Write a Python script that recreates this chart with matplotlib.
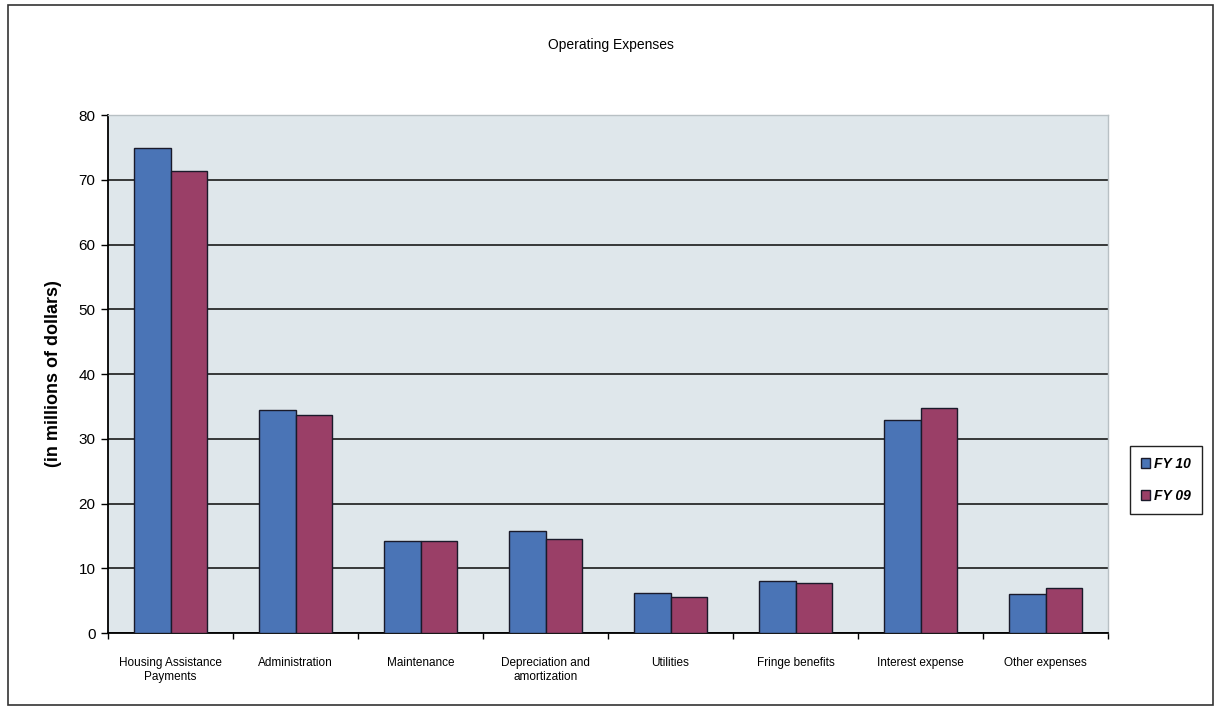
import numpy as np
import matplotlib
matplotlib.use('Agg')
import matplotlib.pyplot as plt
from matplotlib.patches import Rectangle

plt.rcParams.update({
    'font.family': ['Liberation Sans', 'DejaVu Sans'],
    'font.size': 9,
})

categories = ['Housing Assistance\nPayments', 'Administration', 'Maintenance',
              'Depreciation and\namortization', 'Utilities', 'Fringe benefits',
              'Interest expense', 'Other expenses']
fy10 = [74.9, 34.4, 14.2, 15.8, 6.2, 8.0, 32.9, 6.0]
fy09 = [71.4, 33.7, 14.2, 14.5, 5.6, 7.7, 34.7, 6.9]
series_names = ['FY 10', 'FY 09']
colors = ['#4a74b6', '#9a3f67']

fig = plt.figure(figsize=(12.21, 7.11), dpi=100)
ax = fig.add_axes([0.0885, 0.1097, 0.819, 0.7285])
ax.set_facecolor('#dfe7eb')

x = np.arange(len(categories))
w = 0.29
b1 = ax.bar(x - w / 2, fy10, w, color=colors[0], edgecolor='#1a1a2a', linewidth=1.0,
            label=series_names[0], zorder=3)
b2 = ax.bar(x + w / 2, fy09, w, color=colors[1], edgecolor='#1a1a2a', linewidth=1.0,
            label=series_names[1], zorder=3)

ax.set_xlim(-0.5, len(categories) - 0.5)
ax.set_ylim(0, 80)
ax.set_yticks(np.arange(0, 81, 10))
ax.yaxis.grid(True, color='#1a1a1a', linewidth=1.2, zorder=1)
ax.set_axisbelow(True)

ax.set_xticks(x)
ax.set_xticklabels(categories, fontsize=8.5, linespacing=1.3)
ax.set_xticks(np.arange(-0.5, len(categories), 1), minor=True)
ax.tick_params(axis='x', which='major', length=0, pad=17)
ax.tick_params(axis='x', which='minor', length=4, width=1, direction='out')
ax.tick_params(axis='y', length=5, width=1, direction='out', labelsize=11, pad=4)

for side in ['top', 'right']:
    ax.spines[side].set_color('#b8c0c4')
    ax.spines[side].set_linewidth(1)
ax.spines['left'].set_linewidth(1.3)
ax.spines['bottom'].set_linewidth(1.3)

ax.set_ylabel('(in millions of dollars)', fontsize=13, fontweight='bold', labelpad=12)
fig.text(0.5, 0.937, 'Operating Expenses', ha='center', va='center', fontsize=10)

leg = fig.legend(handles=[b1, b2], loc='center left', bbox_to_anchor=(0.920, 0.325),
                 prop={'weight': 'bold', 'style': 'italic', 'size': 10},
                 handlelength=0.6, handleheight=0.7, handletextpad=0.3,
                 labelspacing=1.3, borderpad=0.8, fancybox=False,
                 edgecolor='#222222', framealpha=1)
leg.get_frame().set_linewidth(1)

fig.patches.append(Rectangle((0.0065, 0.008), 0.987, 0.985, transform=fig.transFigure,
                             fill=False, edgecolor='#333333', linewidth=1.2))

fig.savefig('out.png', dpi=100, facecolor='white')
plt.close(fig)
